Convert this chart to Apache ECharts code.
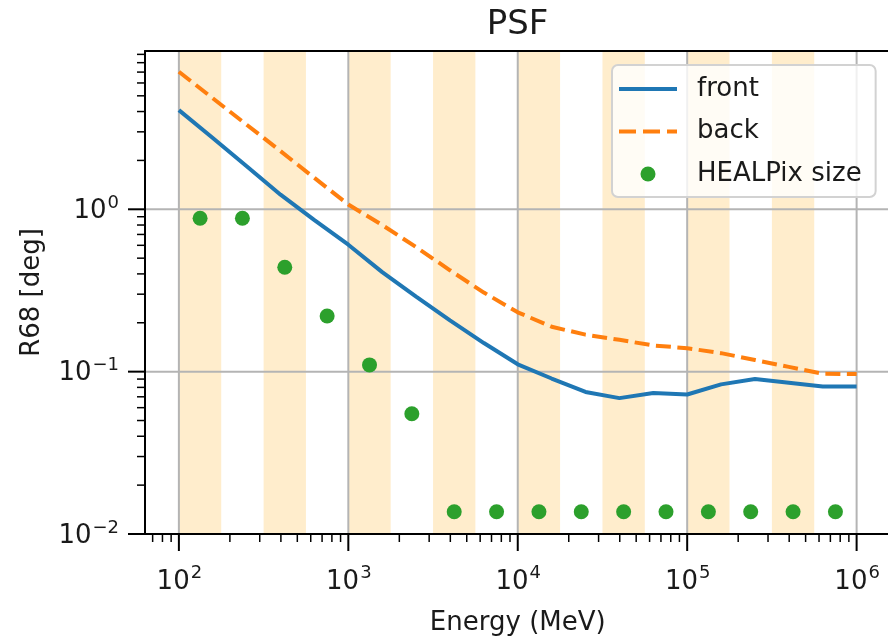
<!DOCTYPE html>
<html>
<head>
<meta charset="utf-8">
<script src="https://cdn.jsdelivr.net/npm/echarts@6/dist/echarts.min.js"></script>
<style>
  html, body { margin: 0; padding: 0; background: #fff; }
  #chart { width: 888px; height: 636px; }
</style>
</head>
<body>
<div id="chart"></div>
<script>
// ---- data -------------------------------------------------------------
// Energies (MeV) at which the 68% containment radius is tabulated
const energyMeV = [100, 158.5, 251.2, 398.1, 631.0, 1000, 1585, 2512, 3981, 6310,
  10000, 15850, 25120, 39810, 63100, 100000, 158500, 251200, 398100, 631000, 1000000];
// R68 (deg) for front- and back-converting events
const frontR68 = [4.08, 2.75, 1.84, 1.23, 0.857, 0.605, 0.41, 0.29, 0.207, 0.150,
  0.111, 0.0907, 0.075, 0.0687, 0.0738, 0.0723, 0.0835, 0.090, 0.0855, 0.081, 0.081];
const backR68 = [7.03, 4.83, 3.32, 2.28, 1.56, 1.07, 0.80, 0.585, 0.421, 0.307,
  0.232, 0.189, 0.169, 0.157, 0.145, 0.1395, 0.130, 0.118, 0.107, 0.097, 0.0966];
// HEALPix pixel size (deg) chosen for each energy band, at the band centre
const healpixEnergyMeV = [133.4, 237.1, 421.7, 749.9, 1334, 2371, 4217, 7499,
  13340, 23710, 42170, 74990, 133400, 237100, 421700, 749900];
const healpixSizeDeg = [0.88, 0.88, 0.44, 0.22, 0.11, 0.055, 0.0137, 0.0137,
  0.0137, 0.0137, 0.0137, 0.0137, 0.0137, 0.0137, 0.0137, 0.0137];
// Shaded (every other) energy bands, MeV
const shadedBandsMeV = [[100, 177.8], [316.2, 562.3], [1000, 1778], [3162, 5623],
  [10000, 17780], [31620, 56230], [100000, 177800], [316200, 562300]];
// Decade tick labels (powers of ten)
const xTickExponents = [2, 3, 4, 5, 6];
const yTickExponents = [-2, -1, 0];

// ---- layout / style ---------------------------------------------------
const FONT = 'DejaVu Sans';
const INK = '#1a1a1a';
const X_MIN = 1.8, X_MAX = 6.2;     // log10(MeV)
const Y_MIN = -2, Y_MAX = 0.975;    // log10(deg)
const PLOT = { left: 145, top: 51, width: 745.5, height: 483 };
const MAJOR_LEN = 17, MINOR_LEN = 8;
const BASE_SIZE = 26, SUP_SIZE = 18;
const DIGIT_EM = 0.636, MINUS_EM = 0.838;

const lg = Math.log10;
const toXY = (xs, ys) => xs.map((x, i) => [lg(x), lg(ys[i])]);

function expText(n) { return n < 0 ? '\u2212' + Math.abs(n) : String(n); }
function expWidth(n) {
  const s = String(Math.abs(n));
  return (s.length * DIGIT_EM + (n < 0 ? MINUS_EM : 0)) * SUP_SIZE;
}

// tick items: [axis (0 = x, 1 = y), log10 position, isMajor]
const tickItems = [];
xTickExponents.forEach(e => tickItems.push([0, e, 1]));
yTickExponents.forEach(e => tickItems.push([1, e, 1]));
for (let d = Math.floor(X_MIN); d <= Math.ceil(X_MAX); d++) {
  for (let k = 2; k <= 9; k++) {
    const v = d + lg(k);
    if (v >= X_MIN && v <= X_MAX) tickItems.push([0, v, 0]);
  }
}
for (let d = Math.floor(Y_MIN); d <= Math.ceil(Y_MAX); d++) {
  for (let k = 2; k <= 9; k++) {
    const v = d + lg(k);
    if (v >= Y_MIN && v <= Y_MAX) tickItems.push([1, v, 0]);
  }
}

// grid lines at decades (the bottom one sits under the spine)
const gridItems = [];
xTickExponents.forEach(e => gridItems.push([0, e]));
yTickExponents.filter(e => e > Y_MIN).forEach(e => gridItems.push([1, e]));

function textEl(x, y, text, size, align) {
  return {
    type: 'text', x: x, y: y,
    style: { text: text, fill: INK, fontFamily: FONT, fontSize: size,
             align: align, verticalAlign: 'middle' }
  };
}

function renderTick(params, api) {
  const axis = api.value(0), v = api.value(1), major = api.value(2);
  const len = major ? MAJOR_LEN : MINOR_LEN;
  const lw = major ? 2 : 1.5;
  const children = [];
  if (axis === 0) {
    const p = api.coord([v, Y_MIN]);
    children.push({ type: 'line', shape: { x1: p[0], y1: p[1], x2: p[0], y2: p[1] + len },
                    style: { stroke: '#000', lineWidth: lw } });
    if (major) {
      const e = Math.round(v);
      const w10 = 2 * DIGIT_EM * BASE_SIZE, we = expWidth(e);
      const anchor = p[0] - (w10 + we) / 2 + w10;
      children.push(textEl(anchor, p[1] + 48, '10', BASE_SIZE, 'right'));
      children.push(textEl(anchor + 1, p[1] + 39, expText(e), SUP_SIZE, 'left'));
    }
  } else {
    const p = api.coord([X_MIN, v]);
    children.push({ type: 'line', shape: { x1: p[0] - len, y1: p[1], x2: p[0], y2: p[1] },
                    style: { stroke: '#000', lineWidth: lw } });
    if (major) {
      const e = Math.round(v);
      const right = p[0] - MAJOR_LEN - 9;
      const we = expWidth(e);
      children.push(textEl(right - we - 1, p[1] + 2, '10', BASE_SIZE, 'right'));
      children.push(textEl(right, p[1] - 6, expText(e), SUP_SIZE, 'right'));
    }
  }
  return { type: 'group', children: children };
}

function renderGrid(params, api) {
  const axis = api.value(0), v = api.value(1);
  const a = axis === 0 ? api.coord([v, Y_MIN]) : api.coord([X_MIN, v]);
  const b = axis === 0 ? api.coord([v, Y_MAX]) : api.coord([X_MAX, v]);
  return { type: 'line', shape: { x1: a[0], y1: a[1], x2: b[0], y2: b[1] },
           style: { stroke: '#b4b4b4', lineWidth: 2 } };
}

function renderBand(params, api) {
  const tl = api.coord([api.value(0), Y_MAX]);
  const br = api.coord([api.value(1), Y_MIN]);
  return { type: 'rect', shape: { x: tl[0], y: tl[1], width: br[0] - tl[0], height: br[1] - tl[1] },
           style: { fill: 'rgba(255,165,0,0.2)' } };
}

// legend glyphs: a solid stroke, a dashed stroke (both 58 x 15 boxes)
const solidIcon = 'path://M0,0M58,15M0,5.5h58v4h-58z';
const dashedIcon = 'path://M0,0M58,15M0,5.5h17v4h-17zM24,5.5h17v4h-17zM48,5.5h10v4h-10z';

const spine = { show: true, onZero: false, lineStyle: { color: '#000', width: 2 } };
const hidden = { axisTick: { show: false }, axisLabel: { show: false }, splitLine: { show: false } };

const option = {
  animation: false,
  backgroundColor: '#fff',
  title: {
    text: 'PSF', left: 517.5, top: 8, padding: 0, textAlign: 'center',
    textStyle: { fontFamily: FONT, fontSize: 34, fontWeight: 'normal', color: INK }
  },
  legend: {
    orient: 'vertical', left: 612, top: 65,
    data: [
      { name: 'front', icon: solidIcon },
      { name: 'back', icon: dashedIcon },
      { name: 'HEALPix size', icon: 'circle' }
    ],
    selectedMode: false,
    backgroundColor: 'rgba(255,255,255,0.8)', borderColor: '#d2d2d2', borderWidth: 2, borderRadius: 6,
    padding: [11, 14, 10, 7], itemWidth: 58, itemHeight: 15, itemGap: 16.5,
    textStyle: { fontFamily: FONT, fontSize: BASE_SIZE, color: INK, lineHeight: 26, padding: [0, 0, 0, 15] }
  },
  grid: { left: PLOT.left, top: PLOT.top, width: PLOT.width, height: PLOT.height, outerBoundsMode: 'none' },
  xAxis: [
    Object.assign({ type: 'value', min: X_MIN, max: X_MAX, position: 'bottom', z: 10,
      axisLine: spine, name: 'Energy (MeV)', nameLocation: 'middle', nameGap: 76,
      nameTextStyle: { fontFamily: FONT, fontSize: BASE_SIZE, color: INK } }, hidden),
    Object.assign({ type: 'value', min: X_MIN, max: X_MAX, position: 'top', z: 10, axisLine: spine }, hidden)
  ],
  yAxis: [
    Object.assign({ type: 'value', min: Y_MIN, max: Y_MAX, position: 'left', z: 10,
      axisLine: spine, name: 'R68 [deg]', nameLocation: 'middle', nameGap: 100,
      nameTextStyle: { fontFamily: FONT, fontSize: BASE_SIZE, color: INK } }, hidden)
  ],
  series: [
    { type: 'custom', name: 'bands', z: 1, silent: true, renderItem: renderBand,
      data: shadedBandsMeV.map(b => [lg(b[0]), lg(b[1])]) },
    { type: 'custom', name: 'grid', z: 2, silent: true, renderItem: renderGrid, data: gridItems },
    { type: 'line', name: 'front', z: 3, symbol: 'none', data: toXY(energyMeV, frontR68),
      color: '#1f77b4', lineStyle: { color: '#1f77b4', width: 4 } },
    { type: 'line', name: 'back', z: 3, symbol: 'none', data: toXY(energyMeV, backR68),
      color: '#ff7f0e', lineStyle: { color: '#ff7f0e', width: 4, type: [15, 6.5] } },
    { type: 'scatter', name: 'HEALPix size', z: 4, symbol: 'circle', symbolSize: 15,
      data: toXY(healpixEnergyMeV, healpixSizeDeg), itemStyle: { color: '#2ca02c', opacity: 1 } },
    { type: 'custom', name: 'ticks', z: 11, silent: true, renderItem: renderTick, data: tickItems }
  ]
};

const chart = echarts.init(document.getElementById('chart'), null, { renderer: 'canvas' });
chart.setOption(option);
</script>
</body>
</html>
